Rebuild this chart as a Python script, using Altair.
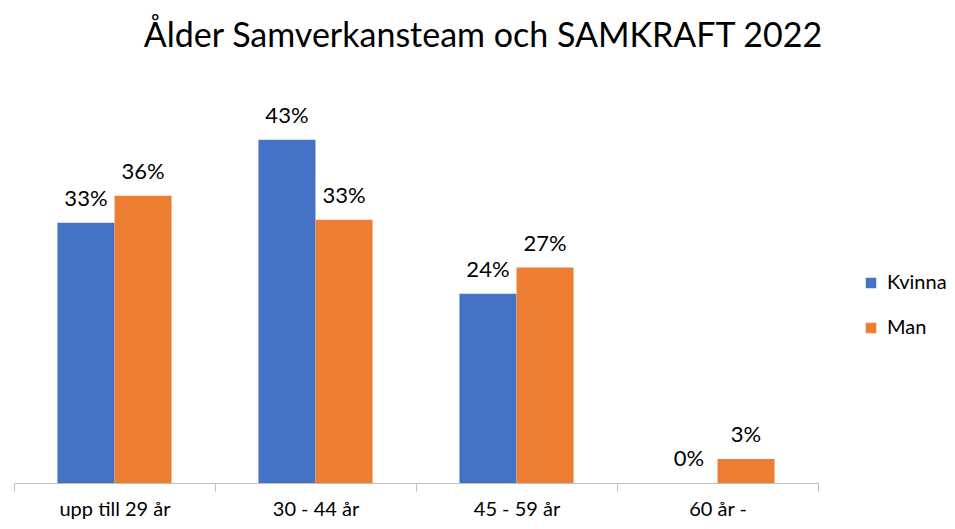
import altair as alt
import pandas as pd

categories = ["upp till 29 år", "30 - 44 år", "45 - 59 år", "60 år -"]
series = ["Kvinna", "Man"]
kvinna = [0.326, 0.43, 0.237, 0.0]
man = [0.36, 0.33, 0.27, 0.03]
colors = ["#4472C4", "#ED7D31"]
title_text = "Ålder Samverkansteam och SAMKRAFT 2022"

rows = []
for c, k, m in zip(categories, kvinna, man):
    rows.append({"Ålder": c, "Kön": "Kvinna", "Andel": k})
    rows.append({"Ålder": c, "Kön": "Man", "Andel": m})
df = pd.DataFrame(rows)

FONT = "Lato"

x = alt.X("Ålder:N", sort=categories, title=None,
          scale=alt.Scale(paddingInner=0, paddingOuter=0),
          axis=alt.Axis(labelAngle=0, tickBand="extent", domainColor="#BFBFBF",
                        tickColor="#BFBFBF", tickSize=8, labelFontSize=20,
                        labelColor="black", labelFont=FONT, labelPadding=8,
                        grid=False))
xo = alt.XOffset("Kön:N", sort=series,
                 scale=alt.Scale(paddingInner=0, paddingOuter=0.76))
y = alt.Y("Andel:Q", scale=alt.Scale(domain=[0, 0.5]), axis=None)

bars = alt.Chart(df).mark_bar(size=57).encode(
    x=x, xOffset=xo, y=y,
    color=alt.Color("Kön:N", sort=series,
                    scale=alt.Scale(domain=series, range=colors),
                    legend=alt.Legend(title=None, orient="none", legendX=847,
                                      legendY=189, symbolType="square",
                                      symbolSize=110, symbolStrokeWidth=0,
                                      labelFontSize=20, labelFont=FONT,
                                      labelColor="black", rowPadding=25,
                                      labelOffset=6)),
)

labels = alt.Chart(df).mark_text(baseline="bottom", dy=-12, fontSize=22,
                                 font=FONT, color="black").encode(
    x=x, xOffset=xo, y=y,
    text=alt.Text("Andel:Q", format=".0%"),
)

chart = alt.layer(bars, labels).properties(
    width=804, height=399,
    title=alt.TitleParams(title_text, fontSize=34, font=FONT, fontWeight="normal",
                          color="black", anchor="middle", offset=30, dx=67),
    autosize=alt.AutoSizeParams(type="none"),
    padding={"left": 6, "top": 76, "right": 129, "bottom": 38},
).configure_view(stroke=None)

chart.save("out.html", embed_options={"renderer": "svg", "actions": False})
